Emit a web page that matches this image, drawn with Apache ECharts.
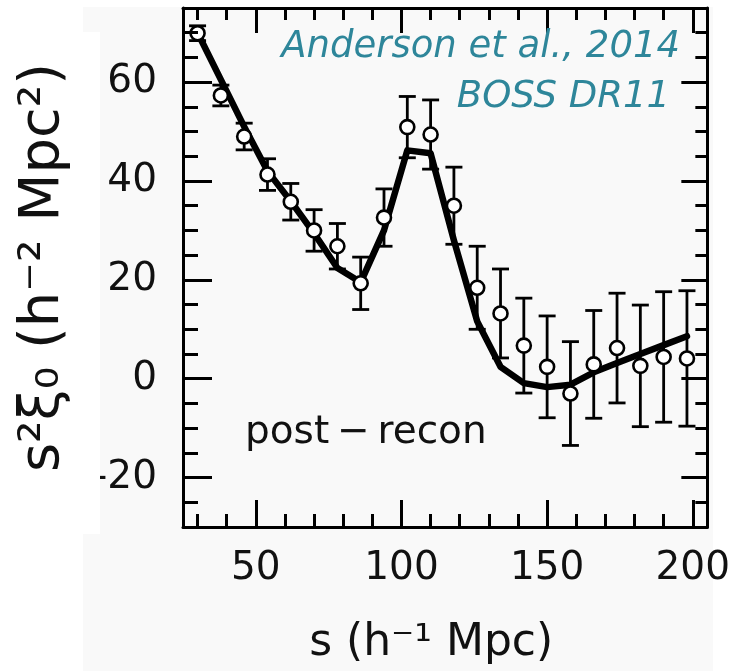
<!DOCTYPE html>
<html>
<head>
<meta charset="utf-8">
<script src="https://cdn.jsdelivr.net/npm/echarts@6/dist/echarts.min.js"></script>
<style>
  html, body { margin: 0; padding: 0; background: #ffffff; }
  #chart { width: 733px; height: 671px; }
</style>
</head>
<body>
<div id="chart"></div>
<script>
// ---- data ----
const sBins = [30, 38, 46, 54, 62, 70, 78, 86, 94, 102, 110, 118, 126, 134, 142, 150, 158, 166, 174, 182, 190, 198];
const xiData = [69.9, 57.3, 49.0, 41.3, 35.8, 30.0, 26.8, 19.3, 32.6, 50.9, 49.4, 35.0, 18.4, 13.2, 6.7, 2.4, -3.0, 2.9, 6.2, 2.6, 4.4, 4.1];
const xiErr = [1.5, 2.1, 2.7, 3.2, 3.7, 4.2, 4.6, 5.3, 5.8, 6.2, 7.0, 7.8, 8.4, 9.0, 9.6, 10.3, 10.5, 10.9, 11.1, 12.3, 13.2, 13.7];
const modelXi = [70.0, 60.5, 51.0, 42.0, 35.9, 29.4, 22.4, 19.5, 30.0, 46.2, 45.6, 28.0, 11.6, 2.4, -0.9, -1.7, -1.2, 1.3, 3.2, 5.0, 6.8, 8.6];

const xMajorTicks = [50, 100, 150, 200];
const xMinorTicks = [30, 40, 60, 70, 80, 90, 110, 120, 130, 140, 160, 170, 180, 190];
const yMajorTicks = [-20, 0, 20, 40, 60];
const yMinorTicks = [-25, -15, -10, -5, 5, 10, 15, 25, 30, 35, 45, 50, 55, 65, 70];

const xTitle = 's (h\u207B\u00B9 Mpc)';
const yTitle = 's\u00B2\u03BE\u2080 (h\u207B\u00B2 Mpc\u00B2)';
const annot1 = 'Anderson et al., 2014';
const annot2 = 'BOSS DR11';
const panelText = 'post\u2009\u2212\u2009recon';

const X_MIN = 25, X_MAX = 205, Y_MIN = -30, Y_MAX = 75;
const labelFont = { fontFamily: 'DejaVu Sans', fontSize: 39, color: '#111' };

function xAx(pos, ticks, len, showLine, labels, extra) {
  return Object.assign({
    type: 'value', position: pos, min: X_MIN, max: X_MAX,
    axisLine: { show: showLine, onZero: false, lineStyle: { color: '#000', width: 3 } },
    axisTick: { show: true, inside: true, length: len, customValues: ticks, lineStyle: { color: '#000', width: 3 } },
    axisLabel: labels ? Object.assign({ show: true, customValues: ticks, margin: 22 }, labelFont) : { show: false },
    splitLine: { show: false }
  }, extra || {});
}
function yAx(pos, ticks, len, showLine, labels, extra) {
  return Object.assign({
    type: 'value', position: pos, min: Y_MIN, max: Y_MAX,
    axisLine: { show: showLine, onZero: false, lineStyle: { color: '#000', width: 3 } },
    axisTick: { show: true, inside: true, length: len, customValues: ticks, lineStyle: { color: '#000', width: 3 } },
    axisLabel: labels ? Object.assign({ show: true, customValues: ticks, margin: 26 }, labelFont) : { show: false },
    splitLine: { show: false }
  }, extra || {});
}

const chart = echarts.init(document.getElementById('chart'), null, { renderer: 'canvas' });

const option = {
  backgroundColor: '#ffffff',
  animation: false,
  grid: { left: 183, top: 8, width: 525, height: 525, containLabel: false },
  graphic: [
    { type: 'rect', z: -10, shape: { x: 83, y: 7, width: 630, height: 664 }, style: { fill: '#f9f9f9' } },
    { type: 'rect', z: 50, shape: { x: 13, y: 32, width: 87, height: 502 }, style: { fill: '#ffffff' } },
    { type: 'text', z: 60, x: 680, y: 47, style: { text: annot1, font: "italic 37px 'DejaVu Sans'", fill: '#2e869a', align: 'right', verticalAlign: 'middle' } },
    { type: 'text', z: 60, x: 670, y: 97, style: { text: annot2, font: "italic 37px 'DejaVu Sans'", fill: '#2e869a', align: 'right', verticalAlign: 'middle' } },
    { type: 'text', z: 60, x: 245, y: 433, style: { text: panelText, font: "39px 'DejaVu Sans'", fill: '#111', align: 'left', verticalAlign: 'middle' } }
  ],
  xAxis: [
    xAx('bottom', xMajorTicks, 27, true, true, {
      name: xTitle, nameLocation: 'middle', nameGap: 95,
      nameTextStyle: { fontFamily: 'DejaVu Sans', fontSize: 44, color: '#111', padding: [0, 28, 0, 0] }
    }),
    xAx('bottom', xMinorTicks, 13, false, false),
    xAx('top', xMajorTicks, 25, true, false),
    xAx('top', xMinorTicks, 12, false, false)
  ],
  yAxis: [
    yAx('left', yMajorTicks, 29, true, true),
    yAx('left', yMinorTicks, 15, false, false, {
      z: 100,
      name: yTitle, nameLocation: 'middle', nameGap: 112, nameRotate: 90,
      nameTextStyle: { fontFamily: 'DejaVu Sans', fontSize: 56, color: '#111' }
    }),
    yAx('right', yMajorTicks, 26, true, false),
    yAx('right', yMinorTicks, 12, false, false)
  ],
  series: [
    {
      name: 'model', type: 'line', xAxisIndex: 0, yAxisIndex: 0,
      data: sBins.map((s, i) => [s, modelXi[i]]),
      showSymbol: false, symbol: 'none', smooth: false,
      lineStyle: { color: '#000', width: 6.5, join: 'round', cap: 'round' },
      z: 2
    },
    {
      name: 'errors', type: 'custom', xAxisIndex: 0, yAxisIndex: 0,
      data: sBins.map((s, i) => [s, xiData[i], xiErr[i]]),
      renderItem: function (params, api) {
        const x = api.value(0), y = api.value(1), e = api.value(2);
        const top = api.coord([x, y + e]);
        const bot = api.coord([x, y - e]);
        const hw = 8.5;
        const st = { stroke: '#000', lineWidth: 2.8, fill: null };
        return {
          type: 'group',
          children: [
            { type: 'line', shape: { x1: top[0], y1: top[1], x2: bot[0], y2: bot[1] }, style: st },
            { type: 'line', shape: { x1: top[0] - hw, y1: top[1], x2: top[0] + hw, y2: top[1] }, style: st },
            { type: 'line', shape: { x1: bot[0] - hw, y1: bot[1], x2: bot[0] + hw, y2: bot[1] }, style: st }
          ]
        };
      },
      z: 3
    },
    {
      name: 'data', type: 'scatter', xAxisIndex: 0, yAxisIndex: 0,
      data: sBins.map((s, i) => [s, xiData[i]]),
      symbol: 'circle', symbolSize: 14,
      itemStyle: { color: '#ffffff', borderColor: '#000', borderWidth: 2.6, opacity: 1 },
      z: 4
    }
  ]
};
chart.setOption(option);
</script>
</body>
</html>
